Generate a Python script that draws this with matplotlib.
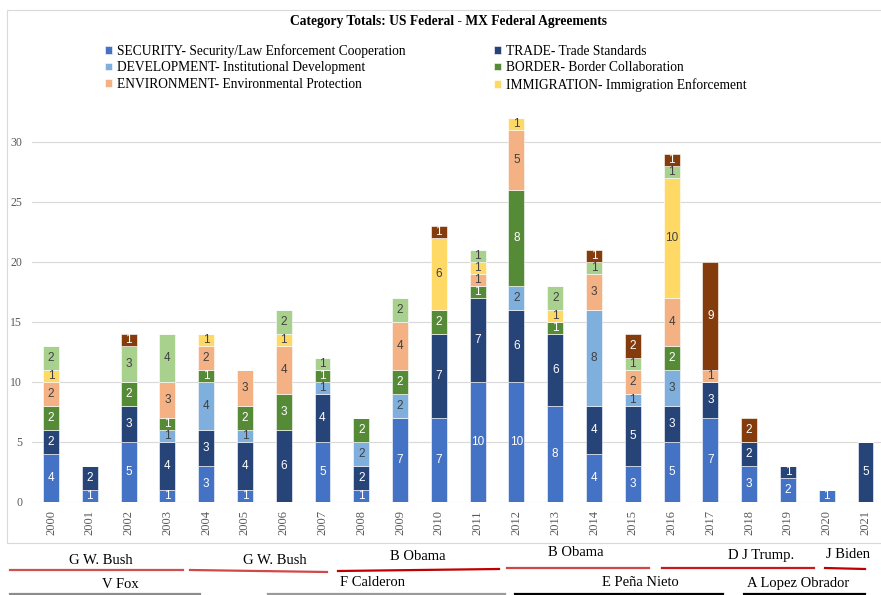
import numpy as np
import matplotlib.pyplot as plt
from matplotlib.lines import Line2D
from matplotlib.patches import Rectangle

#######################################
# DATA
#######################################

years = [str(y) for y in range(2000, 2022)]

security    = [4, 1, 5, 1, 3, 1, 0, 5, 1, 7, 7, 10, 10, 8, 4, 3, 5, 7, 3, 2, 1, 0]
trade       = [2, 2, 3, 4, 3, 4, 6, 4, 2, 0, 7, 7, 6, 6, 4, 5, 3, 3, 2, 1, 0, 5]
development = [0, 0, 0, 1, 4, 1, 0, 1, 2, 2, 0, 0, 2, 0, 8, 1, 3, 0, 0, 0, 0, 0]
border      = [2, 0, 2, 1, 1, 2, 3, 1, 2, 2, 2, 1, 8, 1, 0, 0, 2, 0, 0, 0, 0, 0]
environment = [2, 0, 0, 3, 2, 3, 4, 0, 0, 4, 0, 1, 5, 0, 3, 2, 4, 1, 0, 0, 0, 0]
immigration = [1, 0, 0, 0, 1, 0, 1, 0, 0, 0, 6, 1, 1, 1, 0, 0, 10, 0, 0, 0, 0, 0]
other_green = [2, 0, 3, 4, 0, 0, 2, 1, 0, 2, 0, 1, 0, 2, 1, 1, 1, 0, 0, 0, 0, 0]
other_brown = [0, 0, 1, 0, 0, 0, 0, 0, 0, 0, 1, 0, 0, 0, 1, 2, 1, 9, 2, 0, 0, 0]

labels = ["SECURITY- Security/Law Enforcement Cooperation",
          "TRADE- Trade Standards",
          "DEVELOPMENT- Institutional Development",
          "BORDER- Border Collaboration",
          "ENVIRONMENT- Environmental Protection",
          "IMMIGRATION- Immigration Enforcement",
          "_other_green", "_other_brown"]
series = [security, trade, development, border, environment, immigration, other_green, other_brown]
colors = ["#4472C4", "#264478", "#7EAFDD", "#558A36", "#F4B183", "#FFD966", "#A9D18E", "#843C0C"]
text_colors = ["white", "white", "#404040", "white", "#404040", "#404040", "#404040", "white"]

# US presidents (text, x center px, y px, line x0, x1, y0, y1, colour)
us_terms = [
    ("G W. Bush", 101, 560, 10, 183, 570, 570, "#D05050"),
    ("G W. Bush", 275, 560, 190, 327, 570, 572, "#D04848"),
    ("B Obama", 418, 557, 338, 499, 571, 569, "#C00000"),
    ("B Obama", 576, 553, 507, 649, 568, 568, "#D04545"),
    ("D J Trump.", 761, 555, 662, 814, 568, 568, "#C81818"),
    ("J Biden", 848, 555, 825, 865, 568, 569, "#C00000"),
]
mx_terms = [
    ("V Fox", 120, 585, 10, 200, 594, 594, "#8C8C8C"),
    ("F Calderon", 372, 583, 268, 505, 594, 594, "#9A9A9A"),
    ("E Peña Nieto", 640, 583, 515, 723, 594, 594, "black"),
    ("A Lopez Obrador", 798, 583, 744, 865, 594, 594, "black"),
]

#######################################
# PLOT
#######################################

W, H = 881, 595
plt.rcParams['font.family'] = ['Liberation Serif', 'DejaVu Serif']

fig = plt.figure(figsize=(W / 100, H / 100), dpi=100)
fig.add_artist(Rectangle((7 / W, 1 - 543 / H), 1.0, (543 - 10) / H, transform=fig.transFigure,
                         fill=False, edgecolor="#D9D9D9", linewidth=0.8))

ax = fig.add_axes([32 / W, 1 - 502 / H, (W - 32) / W, 396 / H])

x = np.arange(len(years))
bottom = np.zeros(len(years))
for vals, lab, col, tcol in zip(series, labels, colors, text_colors):
    vals = np.array(vals)
    bars = ax.bar(x, vals, 0.41, bottom=bottom, color=col, label=lab,
                  edgecolor="white", linewidth=0.4, zorder=3)
    ax.bar_label(bars, labels=[str(v) if v > 0 else "" for v in vals], label_type='center',
                 color=tcol, fontsize=8.5, family='Liberation Sans', zorder=4)
    bottom += vals

ax.set_xlim(-0.49, 21.40)
ax.set_ylim(0, 33)
ax.set_yticks(range(0, 31, 5))
ax.set_xticks(x)
ax.set_xticklabels(years, rotation=90, fontsize=9, color="#595959")
ax.tick_params(axis='y', length=0, pad=7, labelsize=8.5, labelcolor="#595959")
ax.tick_params(axis='x', length=0, pad=6)
ax.grid(axis='y', color="#D9D9D9", linewidth=0.8, zorder=0)
for s in ax.spines.values():
    s.set_visible(False)

fig.text(449 / W, 1 - 21 / H, "Category Totals: US Federal - MX Federal Agreements",
         ha='center', va='center', fontsize=9.75, fontweight='bold')

h, l = ax.get_legend_handles_labels()
order = [0, 2, 4, 1, 3, 5]
fig.legend([h[i] for i in order], [l[i] for i in order], ncol=2, frameon=False,
           loc='upper left', bbox_to_anchor=(98 / W, 1 - 37 / H), borderpad=0,
           fontsize=9.75, handlelength=0.5, handleheight=0.5, handletextpad=0.4,
           columnspacing=6.55, labelspacing=0.28)

for terms in (us_terms, mx_terms):
    for txt, tx, ty, x0, x1, y0, y1, col in terms:
        fig.text(tx / W, 1 - ty / H, txt, ha='center', va='center', fontsize=10.5)
        fig.add_artist(Line2D([x0 / W, x1 / W], [1 - y0 / H, 1 - y1 / H], color=col,
                              linewidth=1.6, transform=fig.transFigure))

plt.savefig("out.png", dpi=100)
